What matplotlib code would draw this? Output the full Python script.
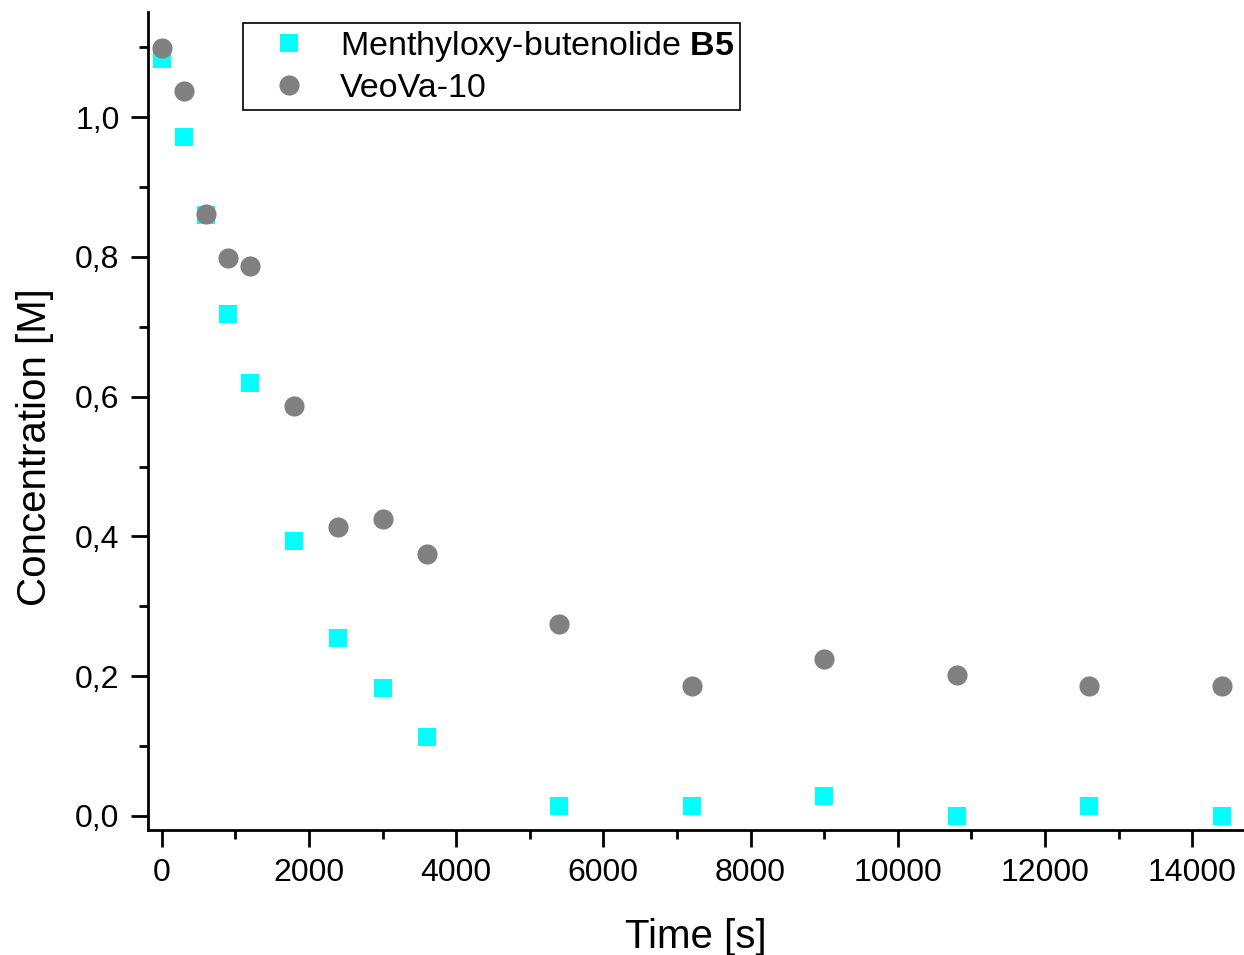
import matplotlib
matplotlib.use('Agg')
import matplotlib.pyplot as plt
from matplotlib.ticker import MultipleLocator, FuncFormatter

plt.rcParams['font.family'] = ['Liberation Sans', 'DejaVu Sans']
plt.rcParams['mathtext.fontset'] = 'custom'
plt.rcParams['mathtext.rm'] = 'Liberation Sans'
plt.rcParams['mathtext.bf'] = 'Liberation Sans:bold'

# --------        data        --------
time_s = [0, 300, 600, 900, 1200, 1800, 2400, 3000, 3600, 5400, 7200, 9000, 10800, 12600, 14400]
butenolide = [1.083, 0.971, 0.860, 0.718, 0.619, 0.394, 0.254, 0.183, 0.113,
              0.014, 0.014, 0.029, 0.0, 0.014, 0.0]
veova = [1.099, 1.037, 0.861, 0.799, 0.787, 0.587, 0.413, 0.425, 0.375,
         0.275, 0.186, 0.225, 0.201, 0.186, 0.186]
labels = [r'Menthyloxy-butenolide $\mathbf{B5}$', 'VeoVa-10']

# --------        figure        --------
fig = plt.figure(figsize=(12.44, 9.55), dpi=100)
ax = fig.add_axes([0.119, 0.131, 0.881, 0.856])

ax.plot(time_s, butenolide, linestyle='none', marker='s', markersize=13,
        color='#00FFFF', markeredgewidth=0, label=labels[0])
ax.plot(time_s, veova, linestyle='none', marker='o', markersize=14.5,
        color='#808080', markeredgewidth=0, label=labels[1])

ax.set_xlim(-186, 14705)
ax.set_ylim(-0.02, 1.15)

ax.xaxis.set_major_locator(MultipleLocator(2000))
ax.xaxis.set_minor_locator(MultipleLocator(1000))
ax.yaxis.set_major_locator(MultipleLocator(0.2))
ax.yaxis.set_minor_locator(MultipleLocator(0.1))
ax.yaxis.set_major_formatter(FuncFormatter(lambda v, _: f'{v:.1f}'.replace('.', ',')))

for side in ('top', 'right'):
    ax.spines[side].set_visible(False)
for side in ('left', 'bottom'):
    ax.spines[side].set_linewidth(2)

ax.tick_params(which='major', direction='out', length=12.5, width=2, labelsize=23, pad=8)
ax.tick_params(which='minor', direction='out', length=6.5, width=2)

ax.set_xlabel('Time [s]', fontsize=29, labelpad=21)
ax.set_ylabel('Concentration [M]', fontsize=29)
ax.yaxis.set_label_coords(-0.086, 0.468)

leg = ax.legend(loc='upper left', bbox_to_anchor=(0.087, 0.987), fontsize=24.5,
                frameon=True, fancybox=False, edgecolor='black', framealpha=1,
                borderpad=0.18, handletextpad=0.3, labelspacing=0.27,
                handlelength=2.35, borderaxespad=0)
leg.get_frame().set_linewidth(1.2)

fig.savefig('out.png', dpi=100)
